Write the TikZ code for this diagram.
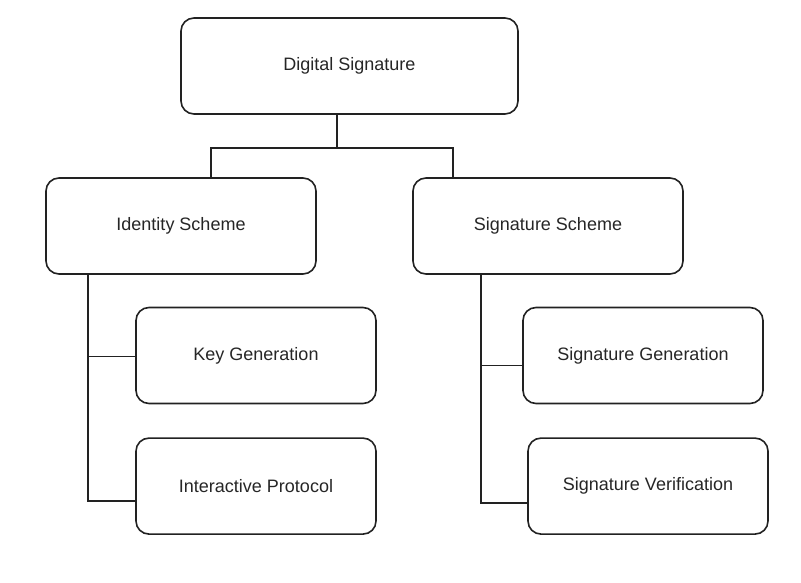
\documentclass[tikz,border=0pt]{standalone}
\usepackage{fontspec}
\setmainfont{Liberation Sans}
\usepackage{tikz}
\usetikzlibrary{positioning}
\definecolor{linegray}{HTML}{222222}
\definecolor{textgray}{HTML}{262626}

\begin{document}
\begin{tikzpicture}[%
    x=1bp,
    y=-1bp,
    line width=1.6bp,
    draw=linegray,
    node distance=33bp,
    block/.style={%
      rectangle,
      rounded corners=13bp,
      minimum width=240bp,
      minimum height=96bp,
      draw=linegray,
      text=textgray,
      font=\fontsize{18bp}{21bp}\selectfont
    },
    wide/.style={%
      block,
      minimum width=270bp
    }
  ]
    \useasboundingbox (0,0) rectangle (801,583);

    \node[block,minimum width=337bp] (ds) at (349.5,66)         {Digital Signature};
    \node[wide] (is) at (181,226)                               {Identity Scheme};
    \node[wide] (ss) at (548,226)                               {Signature Scheme};
    \node[block] (kg) at (256,355.5)                            {Key Generation};
    \node[block] (ip) [below=of kg]                             {Interactive Protocol};
    \node[block] (sg) at (643,355.5)                            {Signature Generation};
    \node[block] (sv) [below=of sg,xshift=5bp]                  {Signature Verification};

    \draw[linegray] ([xshift=-12.5bp]ds.south) -- ++(0,33) coordinate (split);
    \draw[linegray] ([xshift=30bp]is.north) |- (split) -| ([xshift=-95bp]ss.north);

    \draw[linegray] ([xshift=-93bp]is.south) |- ([yshift=-15bp]ip.west);
    \draw[linegray] ([yshift=-1bp]kg.west) -- ++(-47bp,0);

    \draw[linegray] ([xshift=-67bp]ss.south) |- ([yshift=-17bp]sv.west);
    \draw[linegray] ([yshift=-10bp]sg.west) -- ++(-42bp,0);
  \end{tikzpicture}
\end{document}
